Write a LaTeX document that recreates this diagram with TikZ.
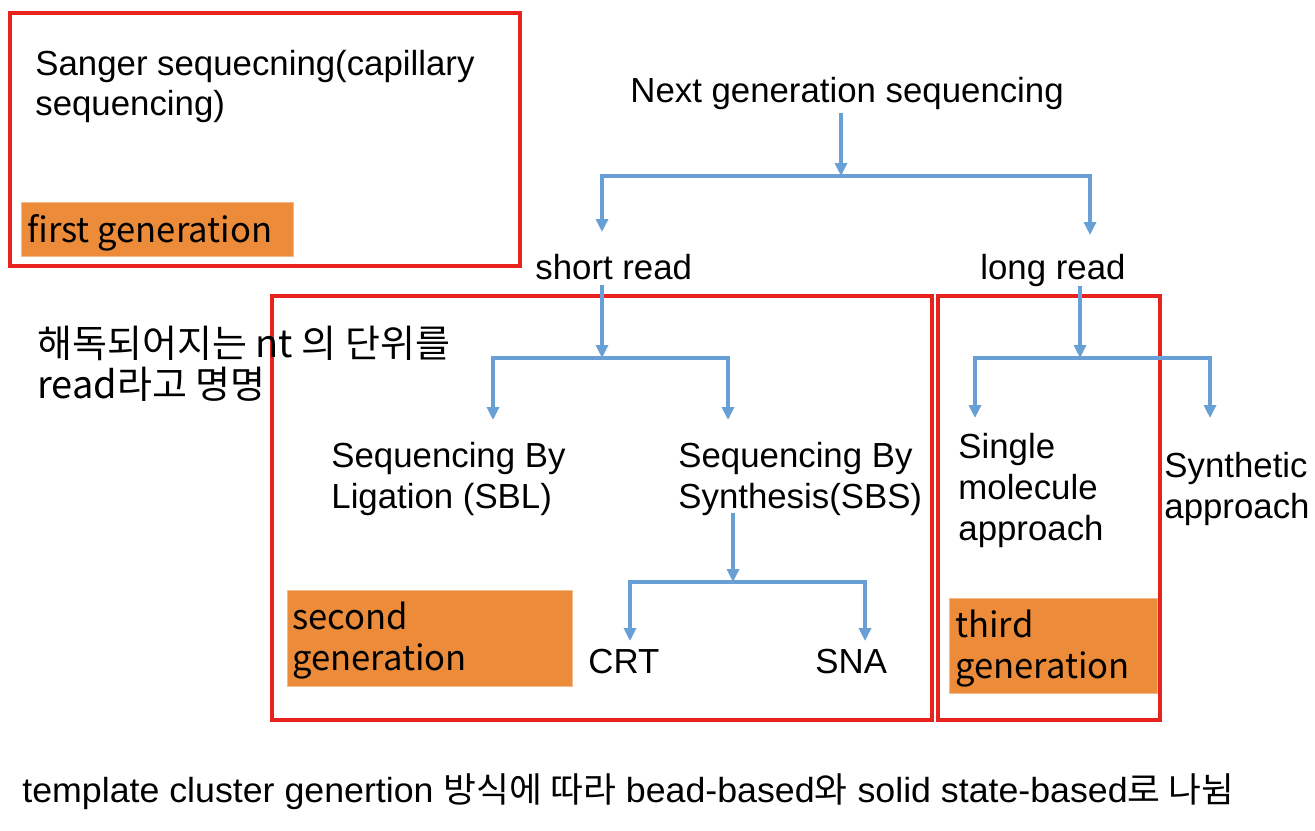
\documentclass[tikz,border=0pt]{standalone}
\usepackage{fontspec}
\usepackage{graphicx}
\setmainfont{Liberation Sans}
\newfontfamily\kr{Noto Sans CJK KR}
\usetikzlibrary{arrows.meta}
\definecolor{boxred}{RGB}{232,35,30}
\definecolor{arrblue}{RGB}{104,160,214}
\definecolor{gorange}{RGB}{236,140,58}
\tikzset{
  redbox/.style={draw=boxred, line width=1.9pt},
  genbox/.style={fill=gorange, draw=gorange!60!white, line width=0.3pt},
  gentext/.style={font=\kr\fontsize{17.3}{20.5}\selectfont, anchor=base west, align=left, inner sep=0pt},
  txt/.style={font=\fontsize{17.4}{20.5}\selectfont, anchor=base west, align=left, inner sep=0pt},
  krtxt/.style={font=\kr\fontsize{19}{20.5}\selectfont, anchor=base west, align=left, inner sep=0pt},
  conn/.style={draw=arrblue, line width=1.6pt},
  tipend/.style={-{Triangle[length=6.5pt,width=6pt]}},
  bitip/.style={{Triangle[length=6.5pt,width=6pt]}-{Triangle[length=6.5pt,width=6pt]}},
}
\begin{document}
\begin{tikzpicture}[x=0.5pt,y=-0.5pt]
\useasboundingbox[fill=white] (0,0) rectangle (1315,830);

% red frames
\draw[redbox] (10,13) rectangle (520,266);
\draw[redbox] (272,296) rectangle (932,720);
\draw[redbox] (938,296) rectangle (1160,720);

% orange generation labels (multi-line nodes are placed by their last baseline)
\fill[genbox] (21,202) rectangle (293,256);
\fill[genbox] (287,590) rectangle (572,686);
\fill[genbox] (949,598) rectangle (1157,693);
\node[gentext] (gen1) at (27,242) {first generation};
\node[gentext] (gen2) at (292,670) {second\\generation};
\node[gentext] (gen3) at (955,678) {third\\generation};

% texts
\node[txt, font=\fontsize{17.4}{20}\selectfont] (sanger) at (35,115) {Sanger sequecning(capillary\\sequencing)};
\node[txt] (ngs) at (630,102) {Next generation sequencing};
\node[txt] (short) at (535,279) {short read};
\node[txt] (long) at (980,279) {long read};
\node[txt] (sbl) at (331,508) {Sequencing By\\Ligation (SBL)};
\node[txt] (sbs) at (678,508) {Sequencing By\\Synthesis(SBS)};
\node[txt] (crt) at (588,673) {CRT};
\node[txt] (sna) at (815,673) {SNA};
\node[txt] (smol) at (958,540) {Single\\molecule\\approach};
\node[txt] (synth) at (1164,518) {Synthetic\\approach};
\node[krtxt] (note) at (37,398) {해독되어지는 nt 의 단위를\\read라고 명명};
\node[txt, anchor=base west] (bottom) at (22,802) {\resizebox{606pt}{\height}{template cluster genertion {\kr 방식에 따라} bead-based{\kr 와} solid state-based{\kr 로 나뉨}}};

% connector points
\coordinate (ngsout) at (841,113);
\coordinate (j1) at (841,176);
\coordinate (shortin) at (602,232);
\coordinate (longin) at (1090,235);
\coordinate (shortout) at (602,285);
\coordinate (j2) at (602,358);
\coordinate (sblin) at (493,420);
\coordinate (sbsin) at (728,420);
\coordinate (sbsout) at (733,513);
\coordinate (j3) at (733,582);
\coordinate (crtin) at (630,641);
\coordinate (snain) at (865,641);
\coordinate (longout) at (1080,286);
\coordinate (j4) at (1080,358);
\coordinate (smolin) at (975,418);
\coordinate (synthin) at (1210,418);

% connectors
\draw[conn,tipend] (ngsout) -- (j1);
\draw[conn,bitip] (shortin) |- (j1) -| (longin);
\draw[conn,tipend] (shortout) -- (j2);
\draw[conn,bitip] (sblin) |- (j2) -| (sbsin);
\draw[conn,tipend] (sbsout) -- (j3);
\draw[conn,bitip] (crtin) |- (j3) -| (snain);
\draw[conn,tipend] (longout) -- (j4);
\draw[conn,bitip] (smolin) |- (j4) -| (synthin);
\end{tikzpicture}
\end{document}
